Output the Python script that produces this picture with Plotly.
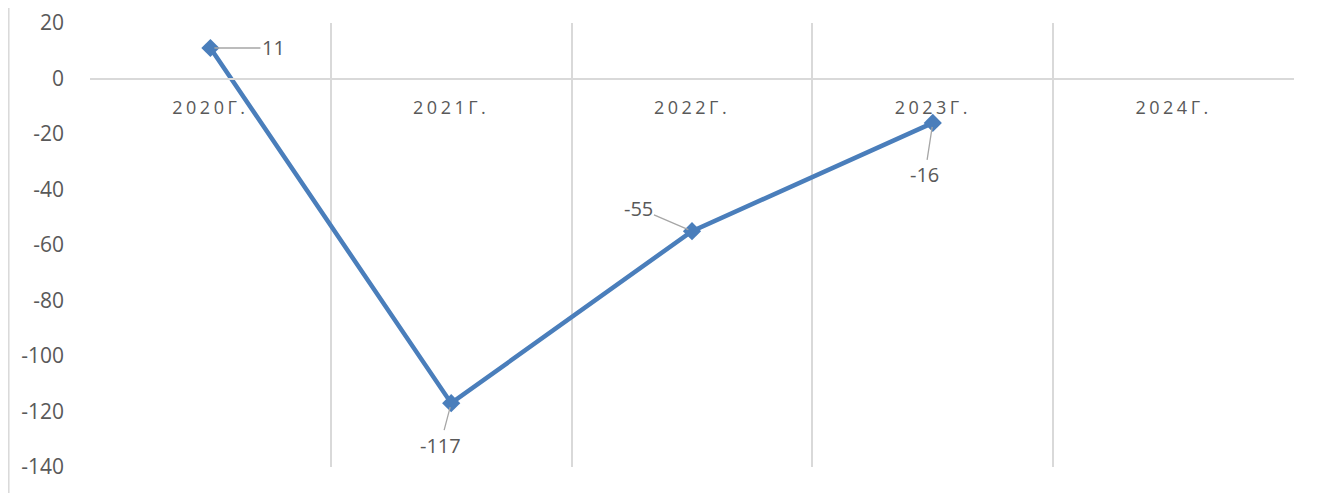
import plotly.graph_objects as go

categories = ["2020г.", "2021г.", "2022г.", "2023г.", "2024г."]
values = [11, -117, -55, -16, None]
label_ax = [63, -11, -54, -8]
label_ay = [0, 42, -23, 52]
y_ticks = [20, 0, -20, -40, -60, -80, -100, -120, -140]

line_color = "#4A7EBB"
text_color = "#595959"
grid_color = "#D9D9D9"

fig = go.Figure()
fig.add_trace(go.Scatter(
    x=categories, y=values, mode="lines+markers",
    line=dict(color=line_color, width=4.5),
    marker=dict(symbol="diamond", size=14, color=line_color),
    hoverinfo="skip", showlegend=False,
))

for c, v, ax, ay in zip(categories, values, label_ax, label_ay):
    if v is None:
        continue
    fig.add_annotation(
        x=c, y=v, text=str(v), showarrow=True, arrowhead=0, arrowwidth=1.3,
        arrowcolor="#A6A6A6", ax=ax, ay=ay, standoff=4,
        font=dict(family="Open Sans", size=20, color=text_color),
    )

ymin, ymax = -140, 20
W, H = 1322, 485
fig.update_layout(
    width=W, height=H,
    margin=dict(l=82, r=36, t=15, b=26, autoexpand=False),
    paper_bgcolor="white", plot_bgcolor="white",
    xaxis=dict(
        type="category", tickson="boundaries", showgrid=True,
        gridcolor=grid_color, gridwidth=1.5,
        anchor="free", position=(0 - ymin) / (ymax - ymin),
        showline=True, linecolor=grid_color, linewidth=2,
        ticks="", ticklabelstandoff=13,
        tickfont=dict(family="Open Sans", size=18, color=text_color),
        tickvals=categories,
        ticktext=['<span style="letter-spacing:3.5px">' + c.upper() + '</span>' for c in categories],
        range=[-0.5, 4.5], zeroline=False,
    ),
    yaxis=dict(
        range=[ymin, ymax], showgrid=False, zeroline=False,
        tickvals=y_ticks, ticktext=[str(t) for t in y_ticks],
        tickfont=dict(family="Open Sans", size=21, color=text_color),
        ticks="", ticklabelstandoff=25,
    ),
    shapes=[dict(type="rect", xref="paper", yref="paper",
                 x0=(0.8 - 82) / 1204, x1=(1317 - 82) / 1204,
                 y0=-0.2, y1=1.2, line=dict(color=grid_color, width=1.5),
                 fillcolor="rgba(0,0,0,0)", layer="below")],
)

fig.write_html("out.html")
